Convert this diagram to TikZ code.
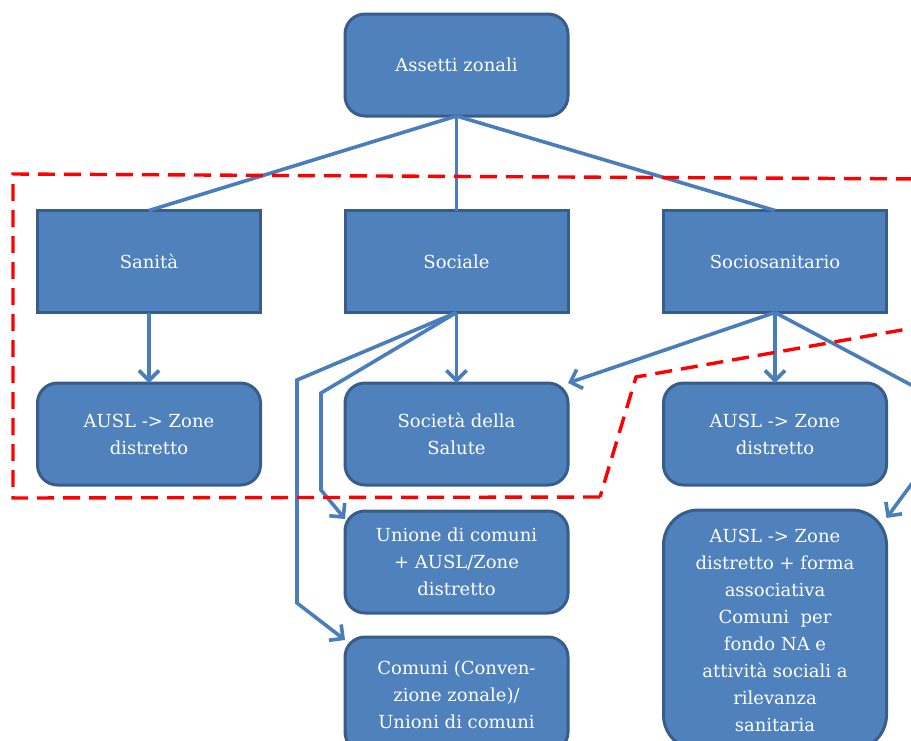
\documentclass[tikz,border=0pt]{standalone}
\usepackage{fontspec}
\setmainfont{DejaVu Serif}
\usetikzlibrary{arrows.meta}
\definecolor{boxfill}{HTML}{4F81BD}
\definecolor{boxedge}{HTML}{385D8A}
\definecolor{conn}{HTML}{4A7EBB}
\begin{document}
\begin{tikzpicture}[x=1pt,y=-1pt,
  box/.style={draw=boxedge, fill=boxfill, line width=3pt, minimum width=223pt, minimum height=102pt,
    text=white, align=center, font=\fontsize{18}{27}\selectfont, inner sep=0pt, outer sep=0pt},
  rbox/.style={box, rounded corners=20pt},
  link/.style={draw=conn, line width=3.6pt},
  arr/.style={link, -{Straight Barb[length=10pt,width=20pt]}},
  frame/.style={draw=red, line width=3.4pt, dash pattern=on 17pt off 9pt}]
\useasboundingbox (0,0) rectangle (911,740);
\clip (0,0) rectangle (911,740);
\fill[white] (0,0) rectangle (911,740);

\node[rbox] (top) at (456.5,65) {Assetti zonali};
\node[box] (san) at (149,261.5) {Sanità};
\node[box] (soc) at (456.5,261.5) {Sociale};
\node[box] (sos) at (775,261.5) {Sociosanitario};
\node[rbox] (a1) at (149,434) {AUSL -> Zone\\distretto};
\node[rbox] (sds) at (456.5,434) {Società della\\Salute};
\node[rbox] (a2) at (775,434) {AUSL -> Zone\\distretto};
\node[rbox] (uc) at (456.5,562) {Unione di comuni\\+ AUSL/Zone\\distretto};
\node[rbox, minimum height=115pt] (cc) at (456.5,694.5) {Comuni (Conven-\\zione zonale)/\\Unioni di comuni};
\node[rbox, minimum height=240pt, rounded corners=35pt] (big) at (775,630)
  {AUSL -> Zone\\distretto + forma\\associativa\\Comuni~ per\\fondo NA e\\attività sociali a\\rilevanza\\sanitaria};

\draw[link] (top.south) -- (san.north);
\draw[link] (top.south) -- (soc.north);
\draw[link] (top.south) -- (sos.north);

\draw[arr] (san.south) -- (a1.north);
\draw[arr] (soc.south) -- (sds.north);
\draw[arr] (soc.south) -- (321,393) -- (321,490) -- ([yshift=-8pt]uc.north west);
\draw[arr] (soc.south) -- (297,380) -- (297,603) -- ([yshift=-3pt]cc.north west);

\draw[arr] (sos.south) -- (sds.north east);
\draw[arr] (sos.south) -- (a2.north);
\draw[arr] (sos.south) -- (930,395) -- (930,459) -- ([yshift=-8pt]big.north east);

\draw[frame] (600,497) -- (13,498) -- (13,174) -- (930,179) -- (930,325) -- (636,377) -- cycle;
\end{tikzpicture}
\end{document}
